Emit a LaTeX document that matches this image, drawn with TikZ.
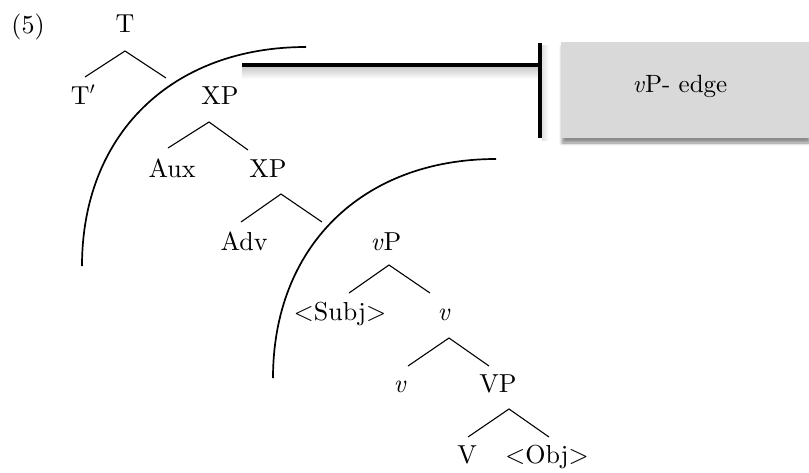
\documentclass[tikz,border=0pt]{standalone}
\usepackage{fontspec}
\setmainfont{lmroman10-regular.otf}[ItalicFont=lmroman10-italic.otf]
\usetikzlibrary{shadows.blur}
\begin{document}
\begin{tikzpicture}[x=1pt,y=-1pt,
  lab/.style={anchor=base,inner sep=0pt,font=\fontsize{26}{30}\selectfont},
  branch/.style={line width=1.1pt},
  arcline/.style={line width=1.7pt},
  heavy/.style={line width=4pt},
  boxlab/.style={font=\fontsize{25}{30}\selectfont}]
\useasboundingbox (0,0) rectangle (809,472);
% example number
\node[lab] (ex) at (28,33) {(5)};
% tree labels
\node[lab] (T) at (125,32) {T};
\node[lab] (Tp) at (83,104) {T$'$};
\node[lab] (XP) at (220,104) {XP};
\node[lab] (Aux) at (172,177) {Aux};
\node[lab] (XPb) at (268,177) {XP};
\node[lab] (Adv) at (244,250) {Adv};
\node[lab] (vP) at (386,250) {\textit{v}P};
\node[lab] (Subj) at (340,320) {<Subj>};
\node[lab] (vb) at (444,320) {\textit{v}};
\node[lab] (vc) at (400,392) {\textit{v}};
\node[lab] (VP) at (498,392) {VP};
\node[lab] (V) at (467,463) {V};
\node[lab] (Obj) at (547,463) {<Obj>};
% branch points
\coordinate (aT) at (125,51); \coordinate (lT) at (85,77); \coordinate (rT) at (166,78);
\coordinate (aX) at (209,122); \coordinate (lX) at (168,148); \coordinate (rX) at (248,150);
\coordinate (aXb) at (281,194); \coordinate (lXb) at (241,222); \coordinate (rXb) at (322,222);
\coordinate (avP) at (389,265); \coordinate (lvP) at (349,293); \coordinate (rvP) at (430,293);
\coordinate (av) at (449,338); \coordinate (lv) at (408,366); \coordinate (rv) at (489,366);
\coordinate (aVP) at (509,409); \coordinate (lVP) at (468,437); \coordinate (rVP) at (549,437);
\draw[branch] (lT) -- (aT) -- (rT);
\draw[branch] (lX) -- (aX) -- (rX);
\draw[branch] (lXb) -- (aXb) -- (rXb);
\draw[branch] (lvP) -- (avP) -- (rvP);
\draw[branch] (lv) -- (av) -- (rv);
\draw[branch] (lVP) -- (aVP) -- (rVP);
% phase arcs
\coordinate (arc1s) at (82,266); \coordinate (arc1e) at (306,47);
\coordinate (arc2s) at (273,378); \coordinate (arc2e) at (496,159);
\draw[arcline] (arc1s) .. controls (82,134) and (172,47) .. (arc1e);
\draw[arcline] (arc2s) .. controls (273,247) and (362,159) .. (arc2e);
% edge box
\node[draw=none,fill=black!15,minimum width=248pt,minimum height=96pt,inner sep=0pt,
  blur shadow={shadow xshift=1pt,shadow yshift=-5pt,shadow blur radius=3pt,shadow opacity=45}]
  (box) at (685,90) {};
\node[boxlab,anchor=base] (boxtxt) at (680,92) {\textit{v}P- edge};
% shadow of the line and bar
\shade[top color=black!35,bottom color=white,opacity=0.6] (242,67) rectangle (538,79);
\shade[left color=black!20,right color=white,opacity=0.6] (542,45) rectangle (549,140);
\coordinate (ls) at (242,65);
\coordinate (bt) at (540,43); \coordinate (bb) at (540,138); \coordinate (bm) at (540,65);
\draw[heavy] (ls) -- (bm);
\draw[heavy] (bt) -- (bb);
\end{tikzpicture}
\end{document}
